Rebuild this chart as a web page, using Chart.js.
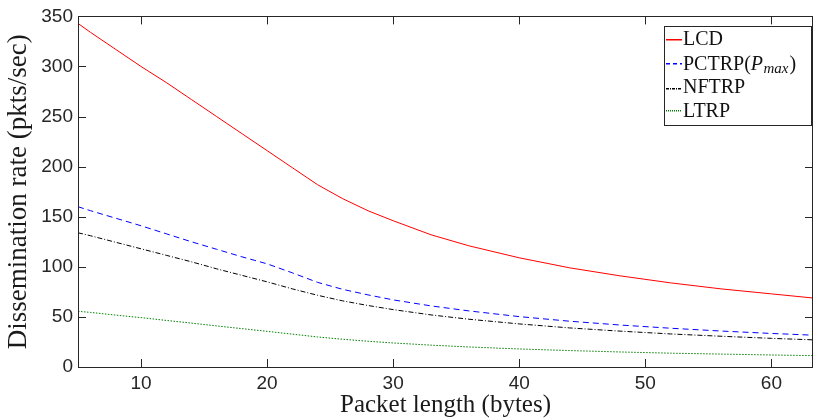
<!DOCTYPE html>
<html>
<head>
<meta charset="utf-8">
<script src="https://cdn.jsdelivr.net/npm/chart.js@4.4.1/dist/chart.umd.min.js"></script>
<style>
  html, body { margin: 0; padding: 0; background: #ffffff; }
  #wrap { width: 814px; height: 420px; position: relative; }
</style>
</head>
<body>
<div id="wrap"><canvas id="c" width="814" height="420"></canvas></div>
<script>
// ---- data ----
const packetLength = [5, 6, 8, 10, 12, 14, 16, 18, 20, 22, 24, 26, 28, 30, 33, 36, 40, 44, 48, 52, 56, 60, 64];
const lcd   = [343, 334, 317, 300, 284, 267, 250, 233, 216, 199, 182, 168, 156, 146, 132, 121, 109, 99, 91, 84, 78, 73, 68];
const pctrp = [160, 156, 148.5, 141, 133, 125, 117.5, 110, 103, 94, 84.5, 77.5, 72, 67, 61, 56, 50.3, 45.7, 41.9, 38.7, 35.9, 33.5, 31.4];
const nftrp = [134, 131, 124.5, 118, 111.5, 105, 98, 91.5, 85, 78, 71.6, 66, 61.4, 57.3, 52, 47.7, 43, 39, 35.8, 33, 30.7, 28.6, 26.8];
const ltrp  = [55.6, 54.5, 51.8, 49.3, 46.5, 43.8, 41, 38.3, 35.6, 32.8, 30, 27.7, 25.7, 24, 21.8, 20, 18, 16.4, 15, 13.8, 12.9, 12, 11.2];
const xTickValues = [10, 20, 30, 40, 50, 60];
const yTickValues = [0, 50, 100, 150, 200, 250, 300, 350];
const seriesNames = ['LCD', 'PCTRP', 'NFTRP', 'LTRP'];

const toXY = arr => arr.map((v, i) => ({ x: packetLength[i], y: v }));

const AXIS_COLOR = '#262626';

const styles = [
  { color: '#ff0000', dash: [] },
  { color: '#0000ff', dash: [6, 4] },
  { color: '#000000', dash: [5, 2, 1, 2] },
  { color: '#008000', dash: [1.5, 1.5] }
];
// legend sample patterns (on/off lengths in px)
const legendPatterns = [[16, 0], [4, 3], [3, 1, 1, 1], [1, 1]];

const seriesData = [lcd, pctrp, nftrp, ltrp];

const boxTicksPlugin = {
  id: 'boxTicks',
  afterDatasetsDraw(chart) {
    const { ctx, chartArea: a, scales } = chart;
    ctx.save();
    ctx.setLineDash([]);
    ctx.strokeStyle = AXIS_COLOR;
    ctx.lineWidth = 1;
    const L = 8;
    ctx.beginPath();
    scales.x.ticks.forEach(t => {
      const px = Math.round(scales.x.getPixelForValue(t.value)) + 0.5;
      ctx.moveTo(px, a.bottom); ctx.lineTo(px, a.bottom - L);
      ctx.moveTo(px, a.top); ctx.lineTo(px, a.top + L);
    });
    scales.y.ticks.forEach(t => {
      const py = Math.round(scales.y.getPixelForValue(t.value)) + 0.5;
      ctx.moveTo(a.left, py); ctx.lineTo(a.left + L, py);
      ctx.moveTo(a.right, py); ctx.lineTo(a.right - L, py);
    });
    ctx.stroke();
    ctx.strokeRect(Math.round(a.left) + 0.5, Math.round(a.top) + 0.5,
                   Math.round(a.right - a.left) - 1, Math.round(a.bottom - a.top));
    ctx.restore();
  }
};

const legendPlugin = {
  id: 'texLegend',
  afterDraw(chart) {
    const { ctx } = chart;
    const bx = 664.5, by = 26.5, bw = 147, bh = 99;
    ctx.save();
    ctx.setLineDash([]);
    ctx.fillStyle = '#ffffff';
    ctx.fillRect(bx, by, bw, bh);
    ctx.strokeStyle = AXIS_COLOR;
    ctx.lineWidth = 1;
    ctx.strokeRect(bx, by, bw, bh);
    ctx.restore();
    const lineY = [39, 63, 88, 110];
    const baseY = [45, 70, 93, 117];
    const x0 = 666, x1 = 682, tx = 683;
    const fs = 20;
    for (let i = 0; i < seriesNames.length; i++) {
      ctx.save();
      ctx.fillStyle = styles[i].color;
      const pat = legendPatterns[i];
      let x = x0, k = 0;
      while (x < x1) {
        const on = pat[k % pat.length];
        const off = pat[(k + 1) % pat.length];
        const w = Math.min(on, x1 - x);
        if (w > 0) ctx.fillRect(x, lineY[i], w, 1.5);
        x += on + off;
        k += 2;
        if (on + off <= 0) break;
      }
      ctx.restore();

      ctx.save();
      ctx.fillStyle = '#111111';
      ctx.textBaseline = 'alphabetic';
      ctx.textAlign = 'left';
      ctx.font = fs + 'px "Liberation Serif"';
      if (seriesNames[i] === 'PCTRP') {
        let x = tx;
        const part1 = 'PCTRP(';
        ctx.fillText(part1, x, baseY[i]);
        x += ctx.measureText(part1).width;
        ctx.font = 'italic ' + fs + 'px "Liberation Serif"';
        ctx.fillText('P', x, baseY[i]);
        x += ctx.measureText('P').width + 0.5;
        ctx.font = 'italic 15px "Liberation Serif"';
        ctx.fillText('max', x, baseY[i] + 3);
        x += ctx.measureText('max').width + 1;
        ctx.font = fs + 'px "Liberation Serif"';
        ctx.fillText(')', x, baseY[i]);
      } else {
        ctx.fillText(seriesNames[i], tx, baseY[i]);
      }
      ctx.restore();
    }
  }
};

new Chart(document.getElementById('c'), {
  type: 'line',
  data: {
    datasets: seriesData.map((arr, i) => ({
      label: seriesNames[i],
      data: toXY(arr),
      borderColor: styles[i].color,
      borderDash: styles[i].dash,
      borderWidth: 1,
      pointRadius: 0,
      tension: 0,
      fill: false
    }))
  },
  options: {
    responsive: false,
    animation: false,
    devicePixelRatio: 1,
    layout: { padding: { top: 16, right: 1, left: 0, bottom: 0 } },
    plugins: { legend: { display: false }, tooltip: { enabled: false } },
    scales: {
      x: {
        type: 'linear',
        min: 5,
        max: 63.3,
        grid: { display: false, drawTicks: false },
        border: { display: false },
        afterBuildTicks: s => { s.ticks = xTickValues.map(v => ({ value: v })); },
        afterFit: s => { s.height = 53; },
        ticks: {
          color: AXIS_COLOR,
          padding: 5,
          maxRotation: 0,
          font: { family: '"Liberation Sans"', size: 19 }
        },
        title: {
          display: true,
          text: 'Packet length (bytes)',
          color: '#1a1a1a',
          padding: { top: 0, bottom: 0 },
          font: { family: '"Liberation Serif"', size: 25 }
        }
      },
      y: {
        type: 'linear',
        min: 0,
        max: 350,
        grid: { display: false, drawTicks: false },
        border: { display: false },
        afterBuildTicks: s => { s.ticks = yTickValues.map(v => ({ value: v })); },
        afterFit: s => { s.width = 78; },
        ticks: {
          color: AXIS_COLOR,
          padding: 5,
          font: { family: '"Liberation Sans"', size: 19 }
        },
        title: {
          display: true,
          text: 'Dissemination rate (pkts/sec)',
          color: '#1a1a1a',
          padding: { top: 3, bottom: 0 },
          font: { family: '"Liberation Serif"', size: 27 }
        }
      }
    }
  },
  plugins: [boxTicksPlugin, legendPlugin]
});
</script>
</body>
</html>
